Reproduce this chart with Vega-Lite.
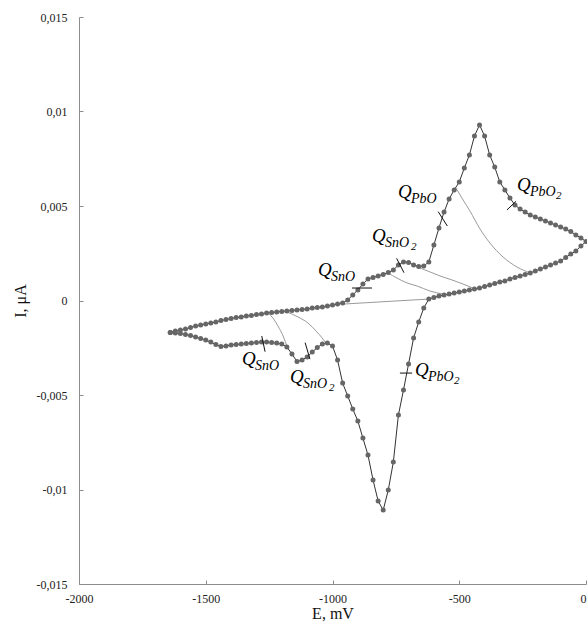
{
  "$schema": "https://vega.github.io/schema/vega-lite/v6.json",
  "width": 507,
  "height": 567,
  "autosize": {"type": "none"},
  "padding": {"left": 79, "top": 17, "right": 1, "bottom": 46},
  "background": "white",
  "config": {"view": {"stroke": null}, "font": "Liberation Serif"},
  "datasets": {
    "cv": [
      {"o":0,"E":-1640,"I":-0.00169},{"o":1,"E":-1620,"I":-0.00161},{"o":2,"E":-1600,"I":-0.00156},{"o":3,"E":-1580,"I":-0.00151},
      {"o":4,"E":-1560,"I":-0.00143},{"o":5,"E":-1540,"I":-0.00135},{"o":6,"E":-1520,"I":-0.0013},{"o":7,"E":-1500,"I":-0.00124},
      {"o":8,"E":-1480,"I":-0.00119},{"o":9,"E":-1460,"I":-0.00114},{"o":10,"E":-1440,"I":-0.00106},{"o":11,"E":-1420,"I":-0.00101},
      {"o":12,"E":-1400,"I":-0.00095},{"o":13,"E":-1380,"I":-0.0009},{"o":14,"E":-1360,"I":-0.00087},{"o":15,"E":-1340,"I":-0.00082},
      {"o":16,"E":-1320,"I":-0.00079},{"o":17,"E":-1300,"I":-0.00074},{"o":18,"E":-1280,"I":-0.00071},{"o":19,"E":-1260,"I":-0.00066},
      {"o":20,"E":-1240,"I":-0.00064},{"o":21,"E":-1220,"I":-0.00061},{"o":22,"E":-1200,"I":-0.00058},{"o":23,"E":-1180,"I":-0.00056},
      {"o":24,"E":-1160,"I":-0.00053},{"o":25,"E":-1140,"I":-0.0005},{"o":26,"E":-1120,"I":-0.00048},{"o":27,"E":-1100,"I":-0.00045},
      {"o":28,"E":-1080,"I":-0.0004},{"o":29,"E":-1060,"I":-0.00037},{"o":30,"E":-1040,"I":-0.00034},{"o":31,"E":-1020,"I":-0.00029},
      {"o":32,"E":-1000,"I":-0.00024},{"o":33,"E":-980,"I":-0.00019},{"o":34,"E":-960,"I":-0.00013},{"o":35,"E":-940,"I":0.00003},
      {"o":36,"E":-920,"I":0.00029},{"o":37,"E":-900,"I":0.00056},{"o":38,"E":-880,"I":0.00087},{"o":39,"E":-860,"I":0.00114},
      {"o":40,"E":-840,"I":0.00122},{"o":41,"E":-820,"I":0.0013},{"o":42,"E":-800,"I":0.00138},{"o":43,"E":-780,"I":0.00148},
      {"o":44,"E":-760,"I":0.00161},{"o":45,"E":-740,"I":0.00188},{"o":46,"E":-720,"I":0.00204},{"o":47,"E":-700,"I":0.00201},
      {"o":48,"E":-680,"I":0.00188},{"o":49,"E":-660,"I":0.0018},{"o":50,"E":-640,"I":0.00183},{"o":51,"E":-620,"I":0.00204},
      {"o":52,"E":-600,"I":0.00294},{"o":53,"E":-580,"I":0.00384},{"o":54,"E":-560,"I":0.00468},{"o":55,"E":-540,"I":0.00537},
      {"o":56,"E":-520,"I":0.00585},{"o":57,"E":-500,"I":0.00627},{"o":58,"E":-480,"I":0.00701},{"o":59,"E":-460,"I":0.0077},
      {"o":60,"E":-440,"I":0.0087},{"o":61,"E":-420,"I":0.00929},{"o":62,"E":-400,"I":0.0087},{"o":63,"E":-380,"I":0.0077},
      {"o":64,"E":-360,"I":0.00706},{"o":65,"E":-340,"I":0.00627},{"o":66,"E":-320,"I":0.00585},{"o":67,"E":-300,"I":0.00542},
      {"o":68,"E":-280,"I":0.00505},{"o":69,"E":-260,"I":0.00484},{"o":70,"E":-240,"I":0.00468},{"o":71,"E":-220,"I":0.00452},
      {"o":72,"E":-200,"I":0.00442},{"o":73,"E":-180,"I":0.00431},{"o":74,"E":-160,"I":0.00421},{"o":75,"E":-140,"I":0.0041},
      {"o":76,"E":-120,"I":0.004},{"o":77,"E":-100,"I":0.00389},{"o":78,"E":-80,"I":0.00378},{"o":79,"E":-60,"I":0.00365},
      {"o":80,"E":-40,"I":0.00347},{"o":81,"E":-20,"I":0.00331},{"o":82,"E":0,"I":0.00312},
      {"o":83,"E":-20,"I":0.00288},{"o":84,"E":-40,"I":0.00262},{"o":85,"E":-60,"I":0.00246},{"o":86,"E":-80,"I":0.00228},
      {"o":87,"E":-100,"I":0.00209},{"o":88,"E":-120,"I":0.00198},{"o":89,"E":-140,"I":0.00188},{"o":90,"E":-160,"I":0.00177},
      {"o":91,"E":-180,"I":0.00167},{"o":92,"E":-200,"I":0.00156},{"o":93,"E":-220,"I":0.00146},{"o":94,"E":-240,"I":0.00138},
      {"o":95,"E":-260,"I":0.0013},{"o":96,"E":-280,"I":0.00122},{"o":97,"E":-300,"I":0.00114},{"o":98,"E":-320,"I":0.00103},
      {"o":99,"E":-340,"I":0.00098},{"o":100,"E":-360,"I":0.0009},{"o":101,"E":-380,"I":0.00082},{"o":102,"E":-400,"I":0.00074},
      {"o":103,"E":-420,"I":0.00066},{"o":104,"E":-440,"I":0.00061},{"o":105,"E":-460,"I":0.00056},{"o":106,"E":-480,"I":0.0005},
      {"o":107,"E":-500,"I":0.00045},{"o":108,"E":-520,"I":0.0004},{"o":109,"E":-540,"I":0.00034},{"o":110,"E":-560,"I":0.00029},
      {"o":111,"E":-580,"I":0.00024},{"o":112,"E":-600,"I":0.00016},{"o":113,"E":-620,"I":0.00008},{"o":114,"E":-640,"I":-0.0004},
      {"o":115,"E":-660,"I":-0.00114},{"o":116,"E":-680,"I":-0.00198},{"o":117,"E":-700,"I":-0.00336},{"o":118,"E":-720,"I":-0.00474},
      {"o":119,"E":-740,"I":-0.00606},{"o":120,"E":-760,"I":-0.00855},{"o":121,"E":-780,"I":-0.01003},{"o":122,"E":-800,"I":-0.01109},
      {"o":123,"E":-820,"I":-0.01061},{"o":124,"E":-840,"I":-0.0095},{"o":125,"E":-860,"I":-0.00818},{"o":126,"E":-880,"I":-0.00728},
      {"o":127,"E":-900,"I":-0.00638},{"o":128,"E":-920,"I":-0.00574},{"o":129,"E":-940,"I":-0.00505},{"o":130,"E":-960,"I":-0.00437},
      {"o":131,"E":-980,"I":-0.00315},{"o":132,"E":-1000,"I":-0.00241},{"o":133,"E":-1020,"I":-0.00225},{"o":134,"E":-1040,"I":-0.0023},
      {"o":135,"E":-1060,"I":-0.00249},{"o":136,"E":-1080,"I":-0.00273},{"o":137,"E":-1100,"I":-0.00299},{"o":138,"E":-1120,"I":-0.00315},
      {"o":139,"E":-1140,"I":-0.00323},{"o":140,"E":-1160,"I":-0.00283},{"o":141,"E":-1180,"I":-0.00246},{"o":142,"E":-1200,"I":-0.0023},
      {"o":143,"E":-1220,"I":-0.00225},{"o":144,"E":-1240,"I":-0.00222},{"o":145,"E":-1260,"I":-0.0022},{"o":146,"E":-1280,"I":-0.0022},
      {"o":147,"E":-1300,"I":-0.00222},{"o":148,"E":-1320,"I":-0.00225},{"o":149,"E":-1340,"I":-0.00228},{"o":150,"E":-1360,"I":-0.0023},
      {"o":151,"E":-1380,"I":-0.00233},{"o":152,"E":-1400,"I":-0.00235},{"o":153,"E":-1420,"I":-0.00241},{"o":154,"E":-1440,"I":-0.00243},
      {"o":155,"E":-1460,"I":-0.00233},{"o":156,"E":-1480,"I":-0.0022},{"o":157,"E":-1500,"I":-0.00209},{"o":158,"E":-1520,"I":-0.00201},
      {"o":159,"E":-1540,"I":-0.00193},{"o":160,"E":-1560,"I":-0.00185},{"o":161,"E":-1580,"I":-0.0018},{"o":162,"E":-1600,"I":-0.00175},
      {"o":163,"E":-1620,"I":-0.00172},{"o":164,"E":-1640,"I":-0.00169}
    ],
    "thin": [
      {"g":1,"E":-513,"I":0.00595},{"g":1,"E":-485,"I":0.00532},{"g":1,"E":-458,"I":0.00474},{"g":1,"E":-418,"I":0.00378},
      {"g":1,"E":-379,"I":0.00304},{"g":1,"E":-327,"I":0.0023},{"g":1,"E":-272,"I":0.00177},{"g":1,"E":-221,"I":0.00146},
      {"g":2,"E":-655,"I":0.00172},{"g":2,"E":-615,"I":0.00151},{"g":2,"E":-576,"I":0.0013},{"g":2,"E":-529,"I":0.00109},
      {"g":2,"E":-485,"I":0.00087},{"g":2,"E":-438,"I":0.00061},
      {"g":3,"E":-781,"I":0.00146},{"g":3,"E":-746,"I":0.00119},{"g":3,"E":-706,"I":0.00093},{"g":3,"E":-667,"I":0.00077},
      {"g":3,"E":-615,"I":0.0005},{"g":3,"E":-564,"I":0.00034},
      {"g":4,"E":-959,"I":-0.00019},{"g":4,"E":-615,"I":0.00008},
      {"g":5,"E":-1254,"I":-0.00066},{"g":5,"E":-1235,"I":-0.00093},{"g":5,"E":-1215,"I":-0.00135},{"g":5,"E":-1195,"I":-0.00188},
      {"g":5,"E":-1176,"I":-0.00257},
      {"g":6,"E":-1179,"I":-0.00061},{"g":6,"E":-1136,"I":-0.00087},{"g":6,"E":-1097,"I":-0.00119},{"g":6,"E":-1065,"I":-0.00161},
      {"g":6,"E":-1041,"I":-0.00198},{"g":6,"E":-1026,"I":-0.00225}
    ],
    "ticks": [
      {"E":-312,"I":0.00479,"E2":-276,"I2":0.00525},
      {"E":-583,"I":0.0047,"E2":-547,"I2":0.00394},
      {"E":-747,"I":0.00223,"E2":-718,"I2":0.00147},
      {"E":-923,"I":0.00066,"E2":-844,"I2":0.00066},
      {"E":-1279,"I":-0.00188,"E2":-1266,"I2":-0.00271},
      {"E":-1108,"I":-0.00223,"E2":-1089,"I2":-0.0031},
      {"E":-734,"I":-0.00384,"E2":-686,"I2":-0.00384}
    ],
    "labels": [
      {"E":-272,"I":0.00577,"sub":"PbO","two":"2"},
      {"E":-742,"I":0.00542,"sub":"PbO","two":""},
      {"E":-844,"I":0.00307,"sub":"SnO","two":"2"},
      {"E":-1057,"I":0.00132,"sub":"SnO","two":""},
      {"E":-1357,"I":-0.00339,"sub":"SnO","two":""},
      {"E":-1168,"I":-0.00434,"sub":"SnO","two":"2"},
      {"E":-675,"I":-0.00397,"sub":"PbO","two":"2"}
    ]
  },
  "encoding": {
    "x": {
      "field": "E", "type": "quantitative",
      "scale": {"domain": [-2000, 0], "nice": false, "zero": false},
      "axis": {
        "title": "E, mV",
        "values": [-2000, -1500, -1000, -500, 0],
        "labelExpr": "datum.value == 0 ? '0' : '-' + format(abs(datum.value), 'd')",
        "labelAlign": {"condition": {"test": "datum.value == 0", "value": "right"}, "value": "center"},
        "grid": false,
        "domainColor": "#8c8c8c", "tickColor": "#8c8c8c",
        "tickSize": -4, "labelPadding": 13, "labelFlush": false,
        "labelFont": "Liberation Serif", "labelFontSize": 12, "labelColor": "#222",
        "titleFont": "Liberation Serif", "titleFontSize": 16, "titleFontWeight": "normal", "titleColor": "#111",
        "titleX": 253.5, "titleY": 29, "titleBaseline": "middle"
      }
    },
    "y": {
      "field": "I", "type": "quantitative",
      "scale": {"domain": [-0.015, 0.015], "nice": false, "zero": false},
      "axis": {
        "title": "I, μA",
        "values": [-0.015, -0.01, -0.005, 0, 0.005, 0.01, 0.015],
        "labelExpr": "datum.value == 0 ? '0' : (datum.value < 0 ? '-' : '') + replace(format(abs(datum.value), '~g'), '.', ',')",
        "grid": false,
        "domainColor": "#8c8c8c", "tickColor": "#8c8c8c",
        "tickSize": -4, "labelPadding": 16,
        "labelFont": "Liberation Serif", "labelFontSize": 12, "labelColor": "#222",
        "titleFont": "Liberation Serif", "titleFontSize": 16, "titleFontWeight": "normal", "titleColor": "#111",
        "titleX": -59, "titleY": 283.5, "titleAngle": 270, "titleBaseline": "middle"
      }
    }
  },
  "layer": [
    {
      "data": {"name": "thin"},
      "mark": {"type": "line", "stroke": "#9a9a9a", "strokeWidth": 1, "interpolate": "monotone"},
      "encoding": {"detail": {"field": "g", "type": "nominal"}}
    },
    {
      "data": {"name": "cv"},
      "mark": {"type": "line", "stroke": "#333333", "strokeWidth": 1},
      "encoding": {"order": {"field": "o", "type": "quantitative"}}
    },
    {
      "data": {"name": "cv"},
      "mark": {"type": "circle", "size": 25, "color": "#666666", "opacity": 1}
    },
    {
      "data": {"name": "ticks"},
      "mark": {"type": "rule", "stroke": "#111111", "strokeWidth": 1},
      "encoding": {"x2": {"field": "E2"}, "y2": {"field": "I2"}}
    },
    {
      "data": {"name": "labels"},
      "mark": {"type": "text", "text": "Q", "align": "left", "baseline": "alphabetic", "fontStyle": "italic", "fontSize": 19, "font": "Liberation Serif", "color": "#000"}
    },
    {
      "data": {"name": "labels"},
      "mark": {"type": "text", "align": "left", "baseline": "alphabetic", "fontStyle": "italic", "fontSize": 14, "font": "Liberation Serif", "color": "#000", "dx": 13, "dy": 5},
      "encoding": {"text": {"field": "sub"}}
    },
    {
      "data": {"name": "labels"},
      "mark": {"type": "text", "align": "left", "baseline": "alphabetic", "fontStyle": "italic", "fontSize": 11, "font": "Liberation Serif", "color": "#000", "dx": 39, "dy": 8},
      "encoding": {"text": {"field": "two"}}
    }
  ]
}
